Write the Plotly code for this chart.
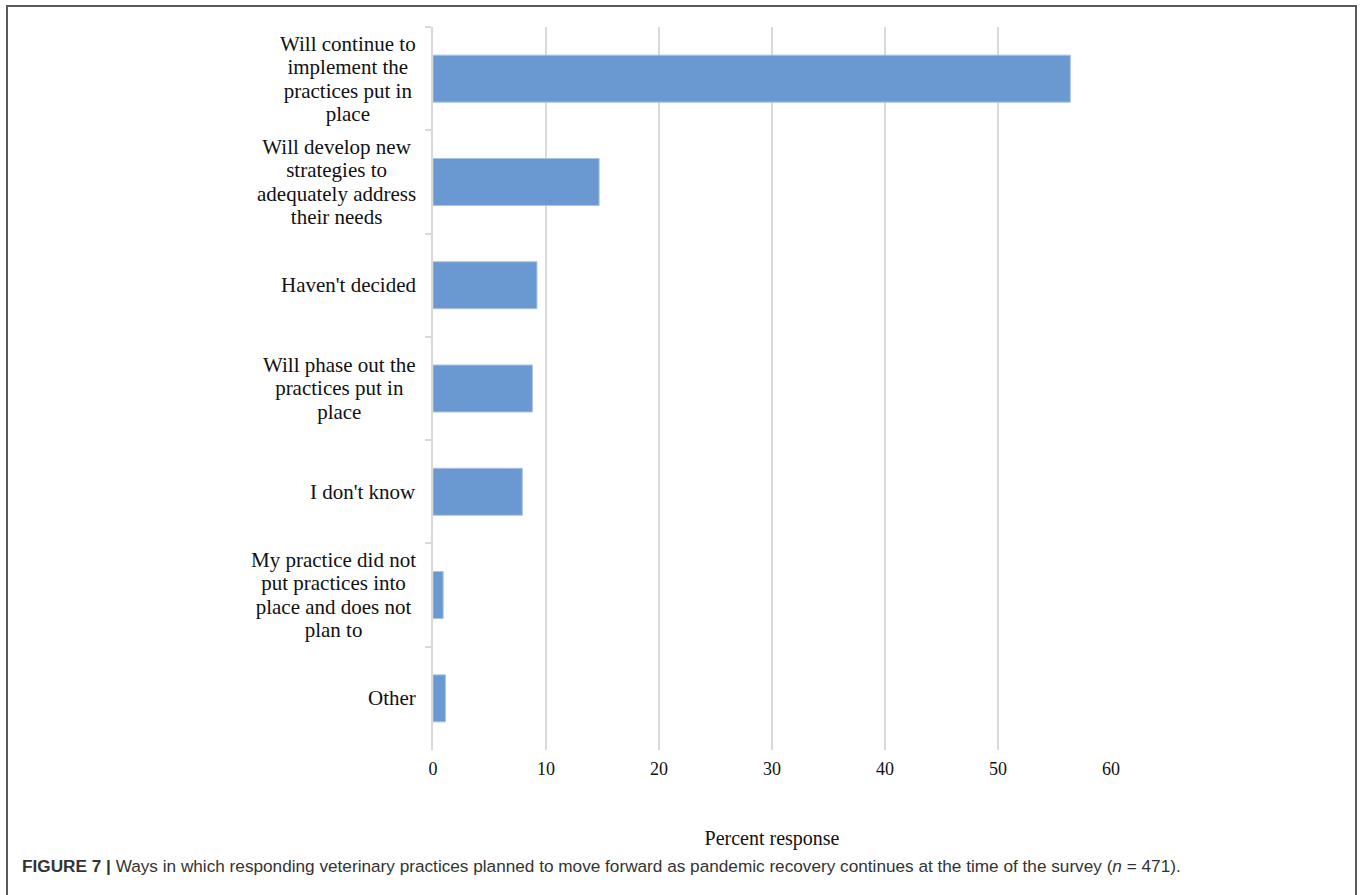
import plotly.graph_objects as go

categories = [
    "Will continue to<br>implement the<br>practices put in<br>place",
    "Will develop new<br>strategies to<br>adequately address<br>their needs",
    "Haven't decided",
    "Will phase out the<br>practices put in<br>place",
    "I don't know",
    "My practice did not<br>put practices into<br>place and does not<br>plan to",
    "Other",
]
cat_ids = ["c1", "c2", "c3", "c4", "c5", "c6", "c7"]
percent = [56.4, 14.7, 9.2, 8.8, 7.9, 0.9, 1.1]
x_ticks = [0, 10, 20, 30, 40, 50, 60]
x_title = "Percent response"
caption = ("<b>FIGURE 7 |</b> Ways in which responding veterinary practices planned to move "
           "forward as pandemic recovery continues at the time of the survey (<i>n</i> = 471).")

W, H = 1360, 895
L, R, T, B = 433, 1111, 27, 750

fig = go.Figure()
fig.add_trace(go.Bar(
    y=cat_ids, x=percent, orientation="h",
    marker=dict(color="#6999d0", line=dict(color="#a8c3e5", width=1)),
    hoverinfo="x",
))

annotations = []
for cid, lab in zip(cat_ids, categories):
    annotations.append(dict(
        x=0, xref="paper", y=cid, yref="y",
        text='<span style="font-size:21px">' + lab + '</span>',
        showarrow=False, xanchor="right", yanchor="middle", align="center",
        xshift=-15,
        font=dict(family="Liberation Serif", size=18, color="#111111"),
    ))

pw = R - L
ph = B - T
annotations.append(dict(
    x=(20 - L) / pw, xref="paper", y=(B - 866) / ph, yref="paper",
    text=caption, showarrow=False, xanchor="left", yanchor="middle",
    font=dict(family="Liberation Sans", size=17.2, color="#333333"),
))

fig.update_layout(
    width=W, height=H,
    margin=dict(l=L, r=W - R, t=T, b=H - B, pad=0),
    plot_bgcolor="white", paper_bgcolor="white",
    showlegend=False,
    bargap=0.545,
    annotations=annotations,
    shapes=[dict(
        type="rect", xref="paper", yref="paper",
        x0=(7 - L) / pw, x1=(1356 - L) / pw,
        y0=(B - 905) / ph, y1=(B - 6) / ph,
        line=dict(color="#5a5a5a", width=2), fillcolor="rgba(0,0,0,0)",
    )],
)
fig.update_xaxes(
    range=[0, 60], tickvals=x_ticks, ticktext=[str(v) for v in x_ticks],
    showgrid=True, gridcolor="#d9d9d9", gridwidth=1.5,
    zeroline=False, showline=False, ticks="",
    tickfont=dict(family="Liberation Serif", size=18, color="#111111"),
    ticklabelstandoff=6,
    title=dict(text=x_title, standoff=52,
               font=dict(family="Liberation Serif", size=20, color="#111111")),
    automargin=False, fixedrange=True,
)
fig.update_yaxes(
    type="category", categoryorder="array", categoryarray=cat_ids,
    autorange="reversed",
    showticklabels=False, showgrid=False, zeroline=False,
    showline=True, linecolor="#d9d9d9", linewidth=1.5,
    ticks="outside", tickson="boundaries", ticklen=6, tickcolor="#d9d9d9", tickwidth=1.5,
    automargin=False, fixedrange=True,
)

fig.write_html("out.html", config={"displayModeBar": False},
               post_script="document.body.style.margin='0';document.body.style.overflow='hidden';")
